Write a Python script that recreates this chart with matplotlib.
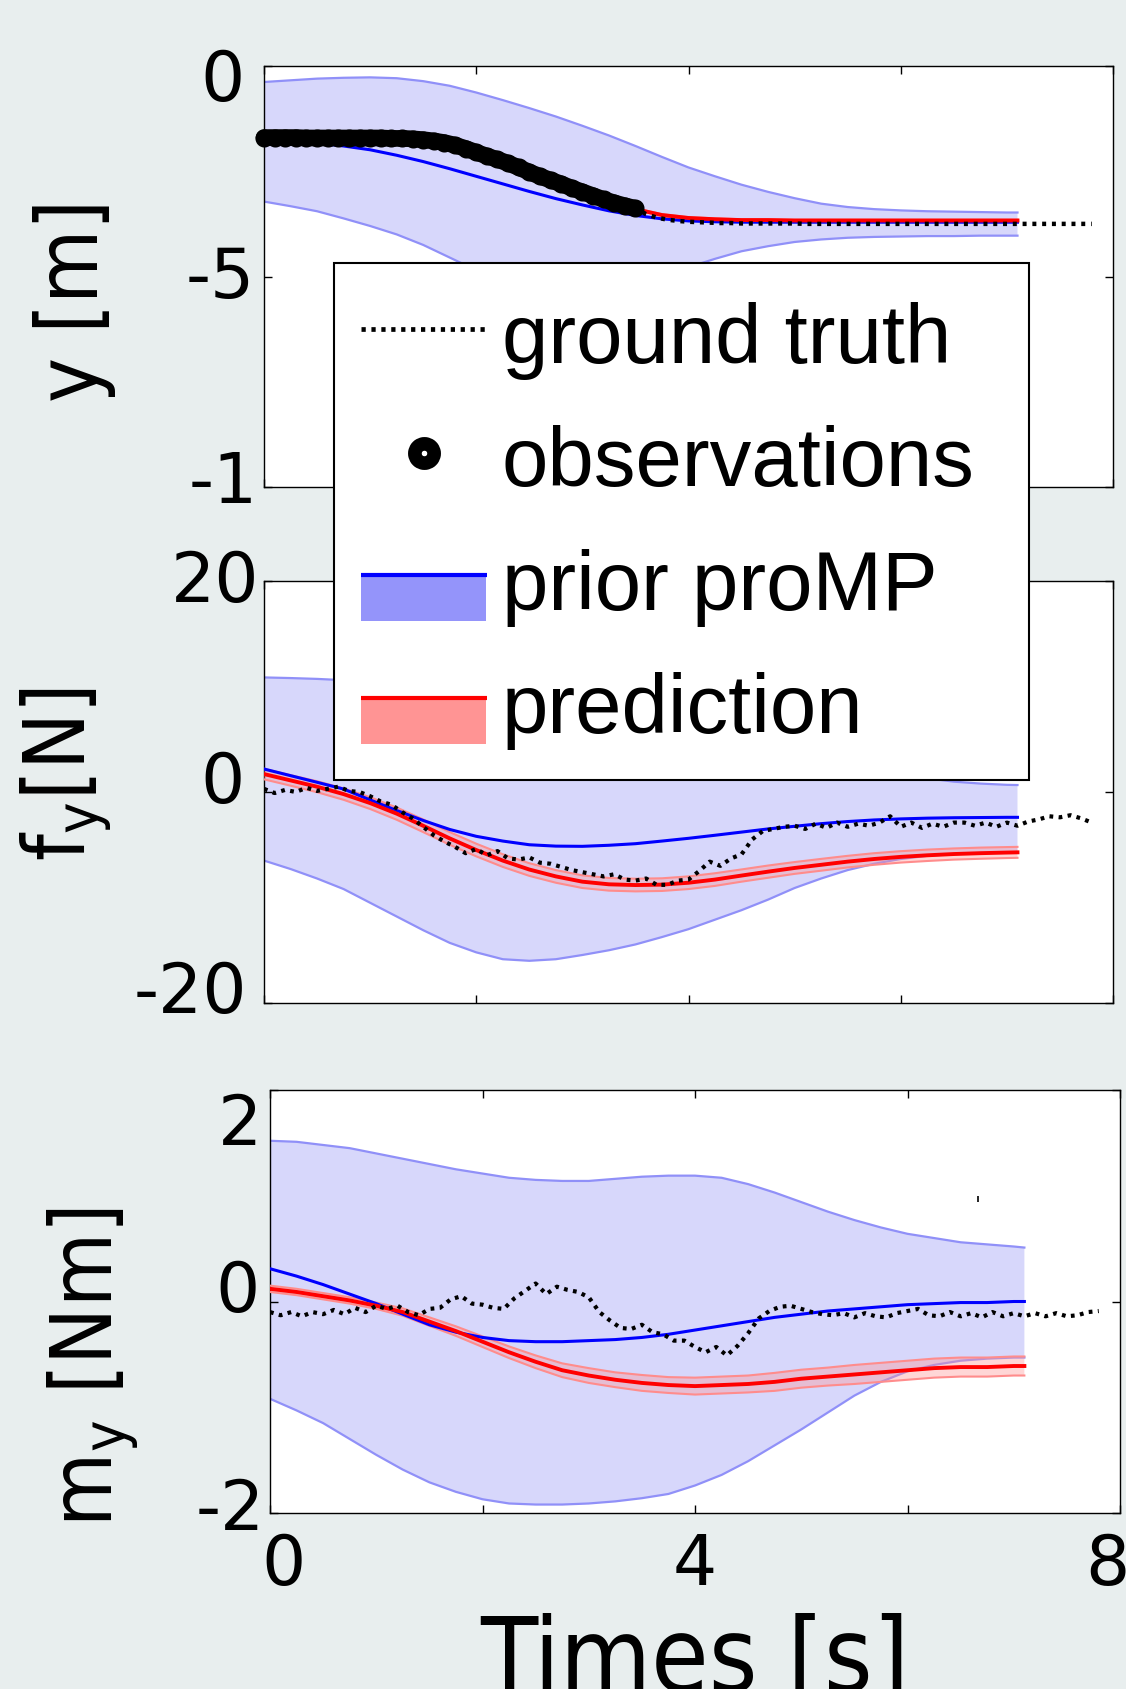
import numpy as np
import matplotlib
matplotlib.use("Agg")
import matplotlib.pyplot as plt
from matplotlib.lines import Line2D
from matplotlib.patches import Rectangle
from matplotlib.legend_handler import HandlerBase
from matplotlib.transforms import blended_transform_factory, ScaledTranslation

# ---------------------------------------------------------------- data
# model time grid [s] (prior proMP and prediction)
t_model = [0.0, 0.25, 0.5, 0.75, 1.0, 1.25, 1.5, 1.75, 2.0, 2.25, 2.5, 2.75,
           3.0, 3.25, 3.5, 3.75, 4.0, 4.25, 4.5, 4.75, 5.0, 5.25, 5.5, 5.75,
           6.0, 6.25, 6.5, 6.75, 7.0, 7.1]
# measurement time grid [s]
t_meas = [round(0.1 * k, 1) for k in range(79)]

# --- y position [m]
y_prior_upper = [-0.38, -0.34, -0.30, -0.28, -0.27, -0.29, -0.36, -0.47, -0.63, -0.81,
                 -1.00, -1.20, -1.42, -1.65, -1.90, -2.16, -2.41, -2.62, -2.82, -2.99,
                 -3.14, -3.27, -3.35, -3.40, -3.43, -3.45, -3.46, -3.47, -3.48, -3.48]
y_prior_lower = [-3.22, -3.33, -3.45, -3.62, -3.80, -4.00, -4.25, -4.55, -4.85, -5.10,
                 -5.30, -5.42, -5.45, -5.40, -5.25, -5.02, -4.78, -4.58, -4.40, -4.28,
                 -4.18, -4.12, -4.08, -4.06, -4.05, -4.04, -4.04, -4.03, -4.03, -4.03]
y_prior_mean = [-1.78, -1.79, -1.83, -1.90, -1.99, -2.12, -2.27, -2.44, -2.62, -2.80,
                -2.98, -3.15, -3.30, -3.44, -3.55, -3.63, -3.68, -3.70, -3.71, -3.71,
                -3.71, -3.71, -3.71, -3.71, -3.71, -3.71, -3.71, -3.71, -3.71, -3.71]
y_truth = [-1.70, -1.70, -1.70, -1.70, -1.71, -1.71, -1.71, -1.71, -1.71, -1.71,
           -1.71, -1.71, -1.72, -1.72, -1.73, -1.75, -1.78, -1.82, -1.88, -1.96,
           -2.05, -2.14, -2.22, -2.31, -2.41, -2.52, -2.62, -2.71, -2.80, -2.90,
           -2.99, -3.08, -3.17, -3.25, -3.32, -3.38, -3.52, -3.60, -3.65, -3.68,
           -3.70, -3.71, -3.72, -3.73, -3.73, -3.74, -3.74, -3.74, -3.74, -3.74,
           -3.74, -3.75, -3.75, -3.75, -3.75, -3.75, -3.75, -3.75, -3.75, -3.75,
           -3.75, -3.75, -3.75, -3.75, -3.75, -3.75, -3.75, -3.75, -3.75, -3.75,
           -3.75, -3.75, -3.75, -3.75, -3.75, -3.75, -3.75, -3.75, -3.75]
n_observed = 36  # samples observed before the prediction starts
t_pred_y = [3.5, 3.75, 4.0, 4.25, 4.5, 4.75, 5.0, 5.25, 5.5, 5.75, 6.0, 6.25,
            6.5, 6.75, 7.0, 7.1]
y_pred = [-3.40, -3.54, -3.61, -3.64, -3.66, -3.66, -3.67, -3.67, -3.67, -3.67,
          -3.67, -3.67, -3.67, -3.67, -3.67, -3.67]
y_pred_hw = [0.02, 0.02, 0.02, 0.02, 0.02, 0.02, 0.02, 0.02, 0.02, 0.02,
             0.02, 0.02, 0.02, 0.02, 0.02, 0.02]

# --- force f_y [N]
fy_prior_upper = [10.86, 10.80, 10.72, 10.60, 10.20, 9.60, 8.90, 8.20, 7.50, 6.90,
                  6.30, 5.80, 5.40, 5.05, 4.80, 4.55, 4.30, 4.00, 3.70, 3.40,
                  3.10, 2.80, 2.45, 2.07, 1.68, 1.30, 0.98, 0.80, 0.68, 0.66]
fy_prior_lower = [-6.50, -7.30, -8.20, -9.20, -10.50, -11.80, -13.10, -14.30, -15.20, -15.85,
                  -16.00, -15.85, -15.45, -15.00, -14.45, -13.75, -13.00, -12.10, -11.20, -10.20,
                  -9.10, -8.20, -7.40, -6.80, -6.35, -6.05, -5.88, -5.78, -5.73, -5.72]
fy_prior_mean = [2.18, 1.55, 0.92, 0.28, -0.75, -1.75, -2.70, -3.55, -4.20, -4.65,
                 -5.00, -5.13, -5.15, -5.05, -4.90, -4.65, -4.39, -4.10, -3.80, -3.50,
                 -3.25, -3.00, -2.80, -2.65, -2.55, -2.48, -2.44, -2.42, -2.40, -2.40]
fy_pred = [1.70, 1.10, 0.50, -0.20, -1.05, -2.05, -3.20, -4.40, -5.50, -6.50,
           -7.35, -8.00, -8.50, -8.75, -8.82, -8.78, -8.60, -8.30, -7.92, -7.55,
           -7.20, -6.90, -6.60, -6.35, -6.15, -6.00, -5.88, -5.80, -5.74, -5.72]
fy_pred_hw = [0.50, 0.50, 0.52, 0.54, 0.56, 0.58, 0.60, 0.60, 0.60, 0.60,
              0.60, 0.60, 0.60, 0.60, 0.60, 0.60, 0.60, 0.60, 0.58, 0.58,
              0.56, 0.56, 0.55, 0.55, 0.54, 0.54, 0.53, 0.53, 0.52, 0.52]
fy_truth = [0.3, -0.1, 0.2, 0.0, 0.4, 0.1, 0.3, 0.5, 0.1, 0.0,
            -0.4, -0.9, -1.2, -1.9, -2.5, -3.3, -4.1, -4.7, -5.2, -5.8,
            -5.4, -6.0, -5.6, -6.3, -6.4, -6.2, -6.7, -6.8, -7.1, -7.4,
            -7.6, -7.8, -8.0, -7.8, -8.3, -8.4, -8.2, -8.8, -8.8, -8.4,
            -8.3, -7.5, -6.6, -7.0, -6.3, -5.9, -4.5, -3.7, -3.5, -3.3,
            -3.2, -3.5, -3.0, -3.4, -2.9, -3.3, -3.0, -3.2, -2.9, -2.3,
            -3.3, -2.9, -3.4, -3.0, -3.3, -2.9, -2.9, -3.2, -2.9, -3.3,
            -2.9, -3.2, -2.8, -2.6, -2.3, -2.4, -2.2, -2.5, -2.9]

# --- moment m_y [Nm]
my_prior_upper = [1.52, 1.51, 1.48, 1.45, 1.40, 1.35, 1.30, 1.25, 1.21, 1.17,
                  1.15, 1.14, 1.14, 1.16, 1.18, 1.19, 1.19, 1.17, 1.11, 1.03,
                  0.94, 0.85, 0.77, 0.70, 0.64, 0.60, 0.56, 0.54, 0.52, 0.51]
my_prior_lower = [-0.92, -1.03, -1.15, -1.30, -1.45, -1.59, -1.71, -1.80, -1.87, -1.91,
                  -1.92, -1.92, -1.91, -1.89, -1.86, -1.82, -1.74, -1.64, -1.51, -1.36,
                  -1.21, -1.05, -0.89, -0.76, -0.66, -0.60, -0.56, -0.54, -0.53, -0.53]
my_prior_mean = [0.31, 0.24, 0.16, 0.07, -0.02, -0.12, -0.22, -0.29, -0.34, -0.37,
                 -0.38, -0.38, -0.37, -0.36, -0.34, -0.31, -0.27, -0.23, -0.19, -0.15,
                 -0.12, -0.09, -0.07, -0.05, -0.03, -0.02, -0.01, -0.01, 0.00, 0.00]
my_pred = [0.12, 0.09, 0.05, 0.01, -0.04, -0.10, -0.19, -0.28, -0.38, -0.48,
           -0.57, -0.65, -0.70, -0.74, -0.77, -0.79, -0.80, -0.79, -0.78, -0.76,
           -0.73, -0.71, -0.69, -0.67, -0.65, -0.63, -0.62, -0.62, -0.61, -0.61]
my_pred_hw = [0.03, 0.03, 0.03, 0.03, 0.03, 0.035, 0.04, 0.045, 0.05, 0.055,
              0.06, 0.065, 0.07, 0.07, 0.075, 0.075, 0.08, 0.08, 0.08, 0.085,
              0.085, 0.085, 0.09, 0.09, 0.09, 0.09, 0.09, 0.09, 0.09, 0.09]
my_truth = [-0.10, -0.13, -0.10, -0.14, -0.10, -0.12, -0.08, -0.12, -0.06, -0.10,
            -0.04, -0.07, -0.04, -0.10, -0.13, -0.07, -0.06, 0.02, 0.05, -0.02,
            -0.03, -0.06, -0.07, 0.03, 0.10, 0.17, 0.07, 0.14, 0.11, 0.09,
            0.04, -0.10, -0.18, -0.25, -0.26, -0.22, -0.29, -0.31, -0.37, -0.37,
            -0.43, -0.48, -0.43, -0.51, -0.42, -0.30, -0.16, -0.09, -0.05, -0.04,
            -0.07, -0.10, -0.12, -0.13, -0.11, -0.15, -0.11, -0.14, -0.15, -0.11,
            -0.09, -0.07, -0.13, -0.14, -0.10, -0.14, -0.11, -0.15, -0.10, -0.14,
            -0.11, -0.14, -0.11, -0.14, -0.11, -0.14, -0.13, -0.10, -0.09]
my_stray_t = [6.66]
my_stray_v = [0.97]

# axis ticks and labels
x_ticks = [0, 2, 4, 6, 8]
x_ticklabels = {0: "0", 4: "4", 8: "8"}
y_ticks_pos = [0, -5, -10]
y_ticklabels_pos = ["0", "-5", "-1"]
y_ticks_force = [20, 0, -20]
y_ticklabels_force = ["20", "0", "-20"]
y_ticks_moment = [2, 0, -2]
y_ticklabels_moment = ["2", "0", "-2"]

legend_labels = ["ground truth", "observations", "prior proMP", "prediction"]

# ---------------------------------------------------------------- style
W, H = 1126, 1690
BG = "#e8eeee"
BAND_FILL = "#d7d7fb"
BAND_EDGE = "#9090f8"
BAND_LEGEND = "#9494fa"
PRED_FILL = "#ff9494"
PRED_EDGE = "#ff8c8c"
TICK_SIZE = 50
TICK_FONT = dict(family=["DejaVu Sans"], size=TICK_SIZE)
LABEL_FONT = dict(family=["DejaVu Sans"], stretch="condensed", size=61)
LEGEND_FONT = dict(family=["Liberation Sans", "DejaVu Sans"], size=60)
DIGIT_H = 0.729 * TICK_SIZE * 100 / 72  # px

fig = plt.figure(figsize=(W / 100, H / 100), dpi=100, facecolor=BG)


def px_axes(left, top, right, bottom):
    return fig.add_axes([left / W, 1 - bottom / H, (right - left) / W, (bottom - top) / H])


ax_y = px_axes(264, 67, 1113, 488)
ax_f = px_axes(264, 582, 1113, 1004)
ax_m = px_axes(270, 1091, 1120, 1514)


def style_axes(ax, ylim, yticks):
    ax.set_facecolor("white")
    ax.set_xlim(0, 8)
    ax.set_ylim(*ylim)
    ax.set_xticks(x_ticks)
    ax.set_yticks(yticks)
    ax.tick_params(direction="in", length=6, width=1, top=True, right=True,
                   labelbottom=False, labelleft=False, color="black")
    for s in ax.spines.values():
        s.set_linewidth(1.0)
        s.set_color("black")


def draw_prior(ax, lo, hi, mean):
    ax.fill_between(t_model, lo, hi, facecolor=BAND_FILL, edgecolor="none", zorder=1)
    ax.plot(t_model, hi, color=BAND_EDGE, lw=1.6, zorder=2)
    ax.plot(t_model, lo, color=BAND_EDGE, lw=1.6, zorder=2)
    ax.plot(t_model, mean, color="#0000ff", lw=2.2, zorder=4)


def draw_pred(ax, t, mean, hw):
    mean = np.asarray(mean)
    hw = np.asarray(hw)
    ax.fill_between(t, mean - hw, mean + hw, facecolor=PRED_FILL, alpha=0.38,
                    edgecolor="none", zorder=3)
    ax.plot(t, mean + hw, color=PRED_EDGE, lw=1.5, zorder=3)
    ax.plot(t, mean - hw, color=PRED_EDGE, lw=1.5, zorder=3)
    ax.plot(t, mean, color="#ff0000", lw=2.8, zorder=5)


def draw_truth(ax, values, lw=3.0):
    ax.plot(t_meas, values, color="black", lw=lw, linestyle=(0, (0.9, 1.3)),
            zorder=6)


def ytick_text(ax, values, texts, centre_dy, pads):
    trans = blended_transform_factory(ax.transAxes, ax.transData)
    for v, s, dy, pad in zip(values, texts, centre_dy, pads):
        off = ScaledTranslation(-pad / 100, -(dy + DIGIT_H / 2) / 100, fig.dpi_scale_trans)
        ax.text(0, v, s, transform=trans + off, ha="right", va="baseline",
                clip_on=False, **TICK_FONT)


# top: lateral position
style_axes(ax_y, (-10, 0), y_ticks_pos)
draw_prior(ax_y, y_prior_lower, y_prior_upper, y_prior_mean)
draw_pred(ax_y, t_pred_y, y_pred, y_pred_hw)
draw_truth(ax_y, y_truth, lw=3.2)
ax_y.plot(t_meas[:n_observed], y_truth[:n_observed], linestyle="-", lw=12,
          solid_capstyle="round", marker="o", ms=8, mew=5, mfc="black", mec="black",
          color="black", zorder=7, clip_on=False)
ytick_text(ax_y, y_ticks_pos, y_ticklabels_pos, [9, -5, -10], [19, 9, 6])

# middle: force
style_axes(ax_f, (-20, 20), y_ticks_force)
draw_prior(ax_f, fy_prior_lower, fy_prior_upper, fy_prior_mean)
draw_pred(ax_f, t_model, fy_pred, fy_pred_hw)
draw_truth(ax_f, fy_truth, lw=3.0)
ytick_text(ax_f, y_ticks_force, y_ticklabels_force, [-5, -15, -16], [5, 19, 17])

# bottom: moment
style_axes(ax_m, (-2, 2), y_ticks_moment)
draw_prior(ax_m, my_prior_lower, my_prior_upper, my_prior_mean)
draw_pred(ax_m, t_model, my_pred, my_pred_hw)
draw_truth(ax_m, my_truth, lw=3.0)
ax_m.plot(my_stray_t, my_stray_v, linestyle="none", marker="|", ms=5, mew=1.2,
          color="black", zorder=6)
ytick_text(ax_m, y_ticks_moment, y_ticklabels_moment, [29, -16, -9], [8, 10, 5])

# x tick labels on the bottom axes
xtrans = blended_transform_factory(ax_m.transData, ax_m.transAxes)
for (xv, s), dx in zip(x_ticklabels.items(), [14, 0, -13]):
    off = ScaledTranslation(dx / 100, -71 / 100, fig.dpi_scale_trans)
    ax_m.text(xv, 0, s, transform=xtrans + off, ha="center", va="baseline",
              clip_on=False, **TICK_FONT)

# axis labels
fig.text(74 / W, 1 - 300 / H, "y [m]", rotation=90, ha="center", va="center", **LABEL_FONT)
fig.text(66 / W, 1 - 774 / H, r"f$_\mathregular{y}$[N]", rotation=90, ha="center",
         va="center", **LABEL_FONT)
fig.text(93 / W, 1 - 1367 / H, r"m$_\mathregular{y}$ [Nm]", rotation=90, ha="center",
         va="center", **LABEL_FONT)
fig.text(695 / W, 1 - 1692 / H, "Times [s]", ha="center", va="baseline",
         family=["DejaVu Sans"], stretch="condensed", size=75)


# ---------------------------------------------------------------- legend
class BandHandler(HandlerBase):
    def __init__(self, fill, line_color, y0, y1, lw):
        super().__init__()
        self.fill, self.line_color, self.y0, self.y1, self.lw = fill, line_color, y0, y1, lw

    def create_artists(self, legend, orig_handle, xdescent, ydescent, width, height,
                       fontsize, trans):
        rect = Rectangle((-xdescent - 3, self.y0), width, self.y1 - self.y0,
                         facecolor=self.fill, edgecolor="none", transform=trans)
        ln = Line2D([-xdescent - 3, -xdescent - 3 + width], [self.y1, self.y1],
                    color=self.line_color, lw=self.lw, solid_capstyle="butt",
                    transform=trans)
        return [rect, ln]


class MarkHandler(HandlerBase):
    def __init__(self, y, **style):
        super().__init__()
        self.y, self.style = y, style

    def create_artists(self, legend, orig_handle, xdescent, ydescent, width, height,
                       fontsize, trans):
        if self.style.get("marker"):
            art = Line2D([-xdescent - 3 + width / 2], [self.y], linestyle="none",
                         transform=trans, **self.style)
        else:
            art = Line2D([-xdescent - 3, -xdescent - 3 + width], [self.y, self.y],
                         transform=trans, **self.style)
        return [art]


h_truth = Line2D([], [])
h_obs = Line2D([], [])
h_prior = Rectangle((0, 0), 1, 1)
h_pred = Rectangle((0, 0), 1, 1)
handler_map = {
    h_truth: MarkHandler(24, color="black", lw=3.4, linestyle=(0, (0.9, 1.2))),
    h_obs: MarkHandler(23, marker="o", ms=14, mew=9.7, mfc="white", mec="black"),
    h_prior: BandHandler(BAND_LEGEND, "#0000ff", -8.6, 24.5, 3.0),
    h_pred: BandHandler(PRED_FILL, "#ff0000", -8.6, 24.5, 3.0),
}
leg = fig.legend([h_truth, h_obs, h_prior, h_pred], legend_labels, handler_map=handler_map,
                 loc="upper left", bbox_to_anchor=(334 / W, 1 - 264 / H, 695 / W, 0),
                 mode="expand", borderaxespad=0, prop=LEGEND_FONT,
                 handlelength=1.51, handleheight=1.09, handletextpad=0.13,
                 labelspacing=0.46, borderpad=0.37, fancybox=False, framealpha=1,
                 edgecolor="black", facecolor="white")
leg.get_frame().set_linewidth(1.5)

fig.savefig("out.png", dpi=100, facecolor=BG)
